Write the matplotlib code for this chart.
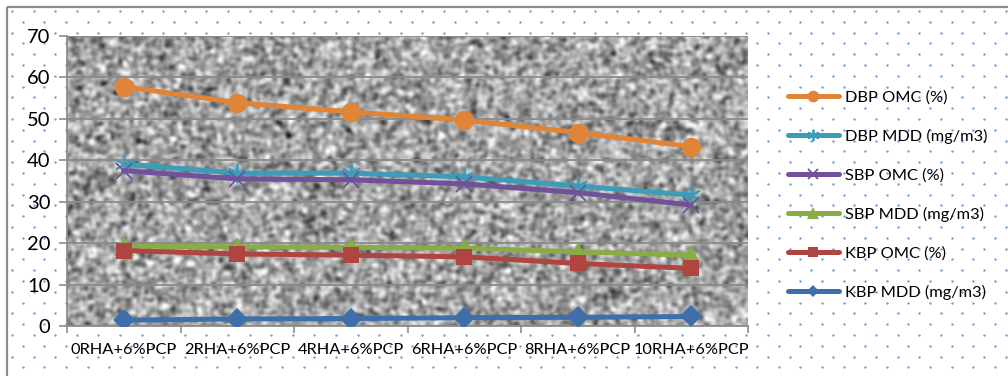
import numpy as np
import matplotlib.pyplot as plt
from matplotlib.patches import Rectangle

# ---------------------------------------------------------
# Data
# ---------------------------------------------------------
categories = ['0RHA+6%PCP', '2RHA+6%PCP', '4RHA+6%PCP',
              '6RHA+6%PCP', '8RHA+6%PCP', '10RHA+6%PCP']

dbp_omc = [57.8, 53.9, 51.7, 49.7, 46.7, 43.3]
dbp_mdd = [39.1, 36.9, 36.9, 36.0, 33.8, 31.6]
sbp_omc = [37.5, 35.5, 35.3, 34.3, 32.2, 29.2]
sbp_mdd = [19.3, 19.1, 19.0, 18.8, 17.9, 17.1]
kbp_omc = [18.2, 17.4, 17.1, 16.7, 15.1, 13.9]
kbp_mdd = [1.4, 1.7, 1.8, 2.0, 2.1, 2.3]

series_names = ['DBP OMC (%)', 'DBP MDD (mg/m3)', 'SBP OMC (%)',
                'SBP MDD (mg/m3)', 'KBP OMC (%)', 'KBP MDD (mg/m3)']
y_ticks = [0, 10, 20, 30, 40, 50, 60, 70]

# ---------------------------------------------------------
# Styles
# ---------------------------------------------------------
styles = [
    dict(color='#E08438', marker='o', ms=14, lw=3.6, mew=0),
    dict(color='#3D9CB8', marker=(6, 2, 0), ms=14, lw=3.6, mew=1.3),
    dict(color='#71519A', marker='x', ms=12, lw=3.6, mew=1.3),
    dict(color='#8AAC46', marker='^', ms=14, lw=3.6, mew=0),
    dict(color='#B04440', marker='s', ms=11, lw=3.6, mew=0),
    dict(color='#3E6FAA', marker='D', ms=11, lw=3.6, mew=0),
]

W, H = 1008, 376
fig = plt.figure(figsize=(W / 100, H / 100), dpi=100)
fig.patch.set_facecolor('white')
plt.rcParams['font.family'] = ['Lato', 'DejaVu Sans']

# background: dotted pattern inside a gray frame
bg = fig.add_axes([0, 0, 1, 1], zorder=0)
bg.set_xlim(0, W)
bg.set_ylim(H, 0)
bg.axis('off')
dx, dy = 21.6, 10.8
xs, ys = [], []
row = 0
y = 11.0
while y < H:
    off = 0 if row % 2 == 0 else dx / 2
    x = 12.0 + off
    while x < W:
        xs.append(x)
        ys.append(y)
        x += dx
    y += dy
    row += 1
bg.scatter(xs, ys, s=3, color='#6F9BDA', linewidths=0)
bg.add_patch(Rectangle((7, 7), W + 20, H + 20, fill=False,
                       edgecolor='#8C8C8C', linewidth=1.6))

# main plot area
ax = fig.add_axes([67 / W, 1 - 326 / H, (748 - 67) / W, (326 - 36) / H], zorder=1)

# granite-like texture for the plot area
rng = np.random.default_rng(7)
tex = rng.normal(0, 1, (170, 390))
for _ in range(2):
    tex = (tex + np.roll(tex, 1, 0) + np.roll(tex, -1, 0)
           + np.roll(tex, 1, 1) + np.roll(tex, -1, 1)) / 5
tex = tex / tex.std()
ax.imshow(tex, cmap='gray', vmin=-4.6, vmax=2.6, interpolation='bicubic',
          extent=[-0.5, 5.5, 0, 70], aspect='auto', zorder=0)

x = np.arange(len(categories))
all_series = [dbp_omc, dbp_mdd, sbp_omc, sbp_mdd, kbp_omc, kbp_mdd]
for vals, name, st in zip(all_series, series_names, styles):
    ax.plot(x, vals, color=st['color'], marker=st['marker'], markersize=st['ms'],
            linewidth=st['lw'], markeredgewidth=st['mew'],
            markeredgecolor=st['color'], label=name, zorder=3,
            solid_capstyle='round')

ax.set_xlim(-0.5, 5.5)
ax.set_ylim(0, 70)
ax.set_yticks(y_ticks)
ax.set_yticklabels([str(v) for v in y_ticks], fontsize=14.5)
ax.set_xticks(x)
ax.set_xticklabels(categories, fontsize=11.8)
ax.set_xticks(np.arange(-0.5, 6, 1), minor=True)
ax.tick_params(axis='x', which='major', length=0, pad=12)
ax.tick_params(axis='x', which='minor', length=5, width=1.2, color='#8C8C8C')
ax.tick_params(axis='y', length=6, width=1.2, color='#8C8C8C', pad=6)
ax.grid(axis='y', color='#8A8A8A', linewidth=1.3, zorder=1)
ax.set_axisbelow(False)
for side in ['top', 'right']:
    ax.spines[side].set_visible(False)
for side in ['left', 'bottom']:
    ax.spines[side].set_color('#8C8C8C')
    ax.spines[side].set_linewidth(1.3)

leg = fig.legend(loc='upper left', bbox_to_anchor=(788 / W, 1 - 90 / H),
                 frameon=False, fontsize=11.8, handlelength=3.1,
                 handletextpad=0.35, labelspacing=1.48, borderpad=0,
                 borderaxespad=0, markerscale=0.6)

fig.savefig('out.png', dpi=100)
